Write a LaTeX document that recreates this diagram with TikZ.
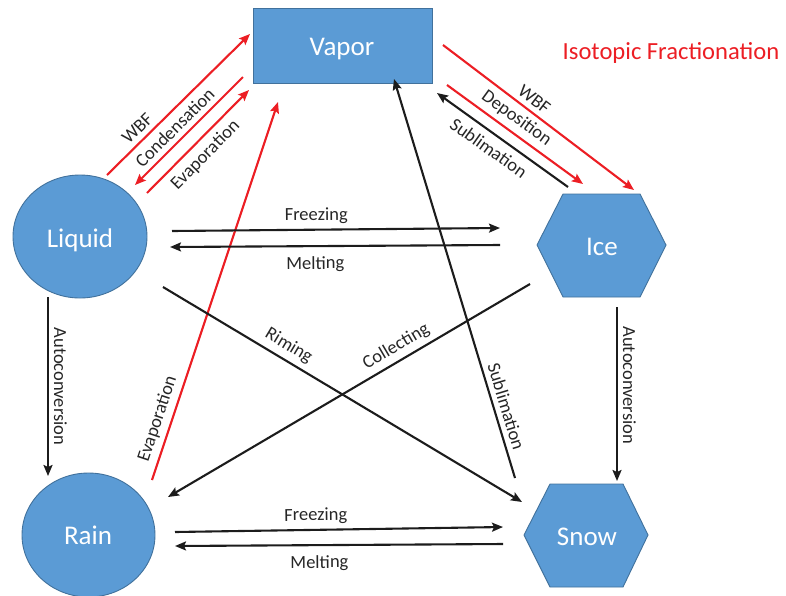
\documentclass[tikz,border=0pt]{standalone}
\usepackage{fontspec}
\setmainfont{Carlito}
\usetikzlibrary{arrows.meta,shapes.geometric}
\definecolor{blobfill}{RGB}{91,155,213}
\definecolor{blobline}{RGB}{65,113,156}
\definecolor{fracred}{RGB}{236,30,36}
\definecolor{linkblack}{RGB}{28,28,28}
\definecolor{lbltext}{RGB}{38,38,38}
\tikzset{
  blob/.style={fill=blobfill, draw=blobline, line width=0.9pt},
  blobtext/.style={text=white, font=\fontsize{27}{30}\selectfont},
  arr/.style={-{Stealth[length=11pt,width=9pt,inset=2pt]}, line width=2.1pt},
  blk/.style={arr, draw=linkblack},
  rd/.style={arr, draw=fracred},
  lbl/.style={text=lbltext, font=\fontsize{18.5}{22}\selectfont, inner sep=5pt}
}
\begin{document}
\begin{tikzpicture}[x=1pt,y=-1pt]
\useasboundingbox (0,0) rectangle (786,595);
% shapes
\node[blob, rectangle, minimum width=179pt, minimum height=75pt, inner sep=0pt] (vapor) at (342.5,45.5) {};
\node[blobtext] (vaportxt) at (342,49.5) {Vapor};
\node[blob, ellipse, minimum width=134pt, minimum height=123pt, inner sep=0pt] (liquid) at (80,236.5) {};
\node[blobtext] (liquidtxt) at (80,240) {Liquid};
\node[blob, ellipse, minimum width=133pt, minimum height=124pt, inner sep=0pt] (rain) at (88.5,535) {};
\node[blobtext] (raintxt) at (88,535) {Rain};
\draw[blob] (537,245) -- (563,194) -- (640,194) -- (666,245) -- (640,297) -- (563,297) -- cycle;
\node[blobtext] (ice) at (602,247) {Ice};
\draw[blob] (524,535) -- (550,484) -- (623,484) -- (648,535) -- (623,587) -- (550,587) -- cycle;
\node[blobtext] (snow) at (587,537) {Snow};
\node[text=fracred, font=\fontsize{24.6}{28}\selectfont] (title) at (671,53) {Isotopic Fractionation};
% connector end points
\coordinate (wbfL1) at (107,175); \coordinate (wbfL2) at (250,34);
\coordinate (cond1) at (243,77); \coordinate (cond2) at (135,185);
\coordinate (ev1) at (147,193); \coordinate (ev2) at (249,90);
\coordinate (evr1) at (152,480); \coordinate (evr2) at (278,102);
\coordinate (wbfR1) at (443,45); \coordinate (wbfR2) at (634,190);
\coordinate (dep1) at (447,85); \coordinate (dep2) at (583,184);
\coordinate (sub1) at (568,187); \coordinate (sub2) at (437,93);
\coordinate (fz1) at (172,231); \coordinate (fz2) at (500,228);
\coordinate (ml1) at (500,245); \coordinate (ml2) at (170,247);
\coordinate (al1) at (48,297); \coordinate (al2) at (48,476);
\coordinate (ar1) at (617,307); \coordinate (ar2) at (617,481);
\coordinate (rim1) at (163,287); \coordinate (rim2) at (522,502);
\coordinate (col1) at (530,284); \coordinate (col2) at (168,497);
\coordinate (sl1) at (515,478); \coordinate (sl2) at (394,79);
\coordinate (fb1) at (175,532); \coordinate (fb2) at (503,527);
\coordinate (mb1) at (503,544); \coordinate (mb2) at (175,546);
% red connectors
\draw[rd] (wbfL1) -- node[lbl, sloped, above, pos=0.27] {WBF} (wbfL2);
\draw[rd] (cond1) -- node[lbl, sloped, above, pos=0.55] {Condensation} (cond2);
\draw[rd] (ev1) -- node[lbl, sloped, below=1pt, pos=0.47] {Evaporation} (ev2);
\draw[rd] (evr1) -- node[lbl, sloped, above, pos=0.15] {Evaporation} (evr2);
\draw[rd] (wbfR1) -- node[lbl, sloped, above, pos=0.44] {WBF} (wbfR2);
\draw[rd] (dep1) -- node[lbl, sloped, above, pos=0.45] {Deposition} (dep2);
% black connectors
\draw[blk] (sub1) -- node[lbl, sloped, below=2pt, pos=0.54] {Sublimation} (sub2);
\draw[blk] (fz1) -- node[lbl, sloped, above, pos=0.44] {Freezing} (fz2);
\draw[blk] (ml1) -- node[lbl, sloped, below=4pt, pos=0.56] {Melting} (ml2);
\draw[blk] (al1) -- node[lbl, pos=0.5, rotate=-90, anchor=south] {Autoconversion} (al2);
\draw[blk] (ar1) -- node[lbl, pos=0.45, rotate=-90, anchor=south] {Autoconversion} (ar2);
\draw[blk] (rim1) -- node[lbl, sloped, above, pos=0.33] {Riming} (rim2);
\draw[blk] (col1) -- node[lbl, sloped, above, pos=0.35] {Collecting} (col2);
\draw[blk] (sl1) -- node[lbl, sloped, above, pos=0.17] {Sublimation} (sl2);
\draw[blk] (fb1) -- node[lbl, sloped, above, pos=0.43] {Freezing} (fb2);
\draw[blk] (mb1) -- node[lbl, sloped, below=4pt, pos=0.56] {Melting} (mb2);
\end{tikzpicture}
\end{document}
